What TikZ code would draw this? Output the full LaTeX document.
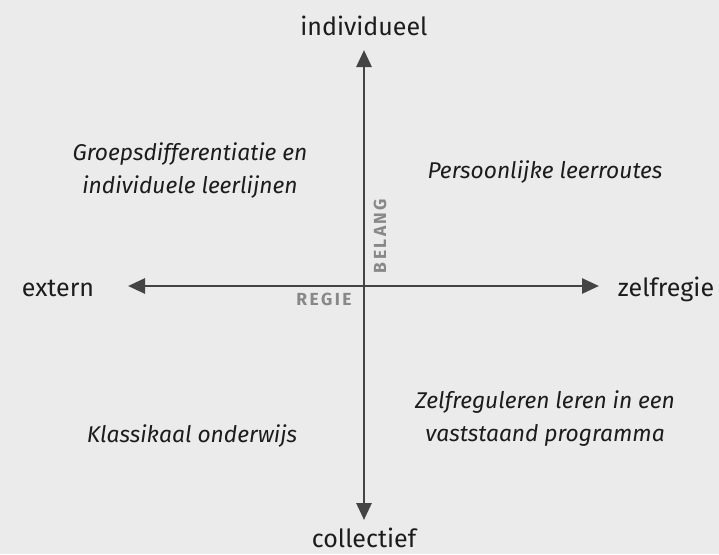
\documentclass[tikz,border=0pt]{standalone}
\usepackage{fontspec}
\setmainfont{Fira Sans}
\usetikzlibrary{arrows.meta}
\definecolor{bg}{HTML}{EBEBEB}
\definecolor{axis}{HTML}{444444}
\definecolor{ink}{HTML}{1C1C1C}
\definecolor{tag}{HTML}{888888}
\begin{document}
\begin{tikzpicture}[x=1pt,y=-1pt,
  axislabel/.style={text=ink,font=\fontsize{25}{30}\selectfont,anchor=base,inner sep=0pt},
  quadrant/.style={text=ink,font=\fontsize{22.8}{33}\selectfont\itshape,align=center,inner sep=0pt},
  tagtext/.style={text=tag,font=\fontsize{17.5}{20}\selectfont\bfseries\addfontfeatures{LetterSpace=14},inner sep=0pt},
  axisline/.style={draw=axis,line width=2.8pt,{Triangle[length=17pt,width=15pt]}-{Triangle[length=17pt,width=15pt]}}]
  \fill[bg] (0,0) rectangle (719,554);
  \useasboundingbox (0,0) rectangle (719,554);

  % axis end points
  \coordinate (top) at (364,50);
  \coordinate (bottom) at (364,520);
  \coordinate (left) at (128,286);
  \coordinate (right) at (599,286);

  \draw[axisline] (bottom) -- (top);
  \draw[axisline] (left) -- (right);

  % axis labels
  \node[axislabel] (ind) at (364,35) {individueel};
  \node[axislabel] (col) at (364,547) {collectief};
  \node[axislabel] (ext) at (58,296) {extern};
  \node[axislabel] (zel) at (666,296) {zelfregie};

  % quadrant descriptions
  \node[quadrant] (q1) at (190,171) {Groepsdifferentiatie en\\individuele leerlijnen};
  \node[quadrant] (q2) at (545,172) {Persoonlijke leerroutes};
  \node[quadrant] (q3) at (192,436) {Klassikaal onderwijs};
  \node[quadrant] (q4) at (545,419) {Zelfreguleren leren in een\\vaststaand programma};

  % axis names
  \node[tagtext,rotate=90] (belang) at (380,236) {BELANG};
  \node[tagtext] (regie) at (324,299) {REGIE};
\end{tikzpicture}
\end{document}
